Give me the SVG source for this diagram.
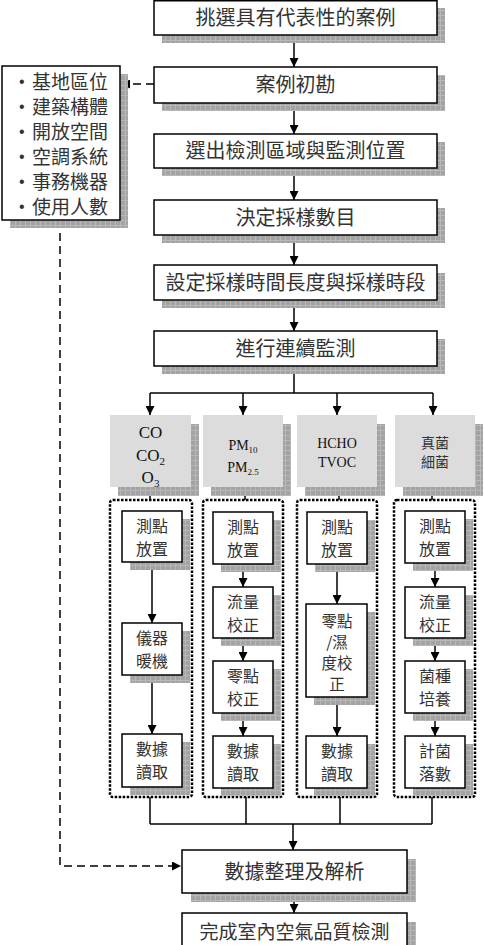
<svg xmlns="http://www.w3.org/2000/svg" width="484" height="945" viewBox="0 0 484 945">
  <defs>
    <pattern id="shade" width="5" height="5" patternUnits="userSpaceOnUse">
      <rect width="5" height="5" fill="#a3a3a3"/>
      <path d="M0 0.5H5M0.5 0V5" stroke="#b8b8b8" stroke-width="1"/>
    </pattern>
    <marker id="arr" viewBox="0 0 10 10" refX="10" refY="5" markerWidth="9" markerHeight="9" markerUnits="userSpaceOnUse" orient="auto">
      <path d="M0 0L10 5L0 10Z" fill="#000"/>
    </marker>
  </defs>
  <style>
    .box { fill: #fff; stroke: #000; stroke-width: 1.5; }
    .shadow { fill: url(#shade); }
    .gbox { fill: #dcdcdc; }
    .grp { fill: none; stroke: #000; stroke-width: 2.5; stroke-dasharray: 2.5 1.5; }
    .t { font-family: "Noto Sans CJK TC", "Noto Sans CJK SC", sans-serif; fill: #333; text-anchor: middle; }
    .big { font-size: 20px; }
    .mid { font-size: 16px; }
    .sm { font-size: 15.5px; }
    .lst { font-size: 19px; text-anchor: start; }
    .bul { font-family: "Liberation Sans", sans-serif; font-size: 16px; fill: #333; }
    .sf { font-family: "Liberation Serif", serif; fill: #111; text-anchor: middle; }
    .ln { fill: none; stroke: #000; stroke-width: 1.5; }
    .dash { fill: none; stroke: #000; stroke-width: 1.5; stroke-dasharray: 8 5; }
  </style>

  <!-- connectors -->
  <g id="connectors">
    <line class="ln" x1="294" y1="35" x2="294" y2="67" marker-end="url(#arr)"/>
    <line class="ln" x1="294" y1="103" x2="294" y2="134" marker-end="url(#arr)"/>
    <line class="ln" x1="294" y1="168" x2="294" y2="200" marker-end="url(#arr)"/>
    <line class="ln" x1="294" y1="235" x2="294" y2="265" marker-end="url(#arr)"/>
    <line class="ln" x1="294" y1="300" x2="294" y2="331" marker-end="url(#arr)"/>
    <line class="ln" x1="294" y1="366" x2="294" y2="393"/>
    <line class="ln" x1="150" y1="393" x2="433" y2="393"/>
    <line class="ln" x1="150" y1="393" x2="150" y2="415" marker-end="url(#arr)"/>
    <line class="ln" x1="243" y1="393" x2="243" y2="415" marker-end="url(#arr)"/>
    <line class="ln" x1="337" y1="393" x2="337" y2="415" marker-end="url(#arr)"/>
    <line class="ln" x1="433" y1="393" x2="433" y2="415" marker-end="url(#arr)"/>
    <!-- category boxes to groups -->
    <line class="ln" x1="150" y1="487" x2="150" y2="500"/>
    <line class="ln" x1="245" y1="487" x2="245" y2="500"/>
    <line class="ln" x1="339" y1="487" x2="339" y2="500"/>
    <line class="ln" x1="432" y1="487" x2="432" y2="500"/>
    <!-- column 1 -->
    <line class="ln" x1="152" y1="562" x2="152" y2="623" marker-end="url(#arr)"/>
    <line class="ln" x1="152" y1="675" x2="152" y2="734" marker-end="url(#arr)"/>
    <!-- column 2 -->
    <line class="ln" x1="243" y1="564" x2="243" y2="587" marker-end="url(#arr)"/>
    <line class="ln" x1="243" y1="638" x2="243" y2="661" marker-end="url(#arr)"/>
    <line class="ln" x1="243" y1="713" x2="243" y2="736" marker-end="url(#arr)"/>
    <!-- column 3 -->
    <line class="ln" x1="337" y1="564" x2="337" y2="604" marker-end="url(#arr)"/>
    <line class="ln" x1="337" y1="697" x2="337" y2="736" marker-end="url(#arr)"/>
    <!-- column 4 -->
    <line class="ln" x1="435" y1="563" x2="435" y2="587" marker-end="url(#arr)"/>
    <line class="ln" x1="435" y1="638" x2="435" y2="661" marker-end="url(#arr)"/>
    <line class="ln" x1="435" y1="713" x2="435" y2="736" marker-end="url(#arr)"/>
    <!-- groups to merge -->
    <line class="ln" x1="150" y1="797" x2="150" y2="824"/>
    <line class="ln" x1="246" y1="797" x2="246" y2="824"/>
    <line class="ln" x1="340" y1="797" x2="340" y2="824"/>
    <line class="ln" x1="432" y1="797" x2="432" y2="824"/>
    <line class="ln" x1="150" y1="824" x2="432" y2="824"/>
    <line class="ln" x1="293" y1="824" x2="293" y2="850" marker-end="url(#arr)"/>
    <line class="ln" x1="294" y1="893" x2="294" y2="913" marker-end="url(#arr)"/>
    <!-- dashed links -->
    <line class="dash" x1="154" y1="84" x2="121" y2="84" marker-end="url(#arr)"/>
    <path class="dash" d="M60 220V866H181" marker-end="url(#arr)"/>
  </g>

  <!-- main flow -->
  <g id="n1">
    <rect class="shadow" x="162" y="8" width="283" height="35"/>
    <rect class="box" x="154" y="0.75" width="283" height="34.25"/>
    <text class="t big" x="295.5" y="24.5">挑選具有代表性的案例</text>
  </g>
  <g id="n2">
    <rect class="shadow" x="162" y="75" width="283" height="36"/>
    <rect class="box" x="154" y="67" width="283" height="36"/>
    <text class="t big" x="295.5" y="92">案例初勘</text>
  </g>
  <g id="n3">
    <rect class="shadow" x="162" y="142" width="283" height="34"/>
    <rect class="box" x="154" y="134" width="283" height="34"/>
    <text class="t big" x="295.5" y="158">選出檢測區域與監測位置</text>
  </g>
  <g id="n4">
    <rect class="shadow" x="162" y="208" width="283" height="35"/>
    <rect class="box" x="154" y="200" width="283" height="35"/>
    <text class="t big" x="295.5" y="224.5">決定採樣數目</text>
  </g>
  <g id="n5">
    <rect class="shadow" x="162" y="273" width="283" height="35"/>
    <rect class="box" x="154" y="265" width="283" height="35"/>
    <text class="t big" x="295.5" y="289.5">設定採樣時間長度與採樣時段</text>
  </g>
  <g id="n6">
    <rect class="shadow" x="162" y="339" width="283" height="35"/>
    <rect class="box" x="154" y="331" width="283" height="35"/>
    <text class="t big" x="295.5" y="355.5">進行連續監測</text>
  </g>

  <!-- survey factors -->
  <g id="factors">
    <rect class="shadow" x="10" y="74" width="118" height="154"/>
    <rect class="box" x="2" y="66" width="118" height="154"/>
    <g class="bul">
      <text x="19" y="87">•</text>
      <text x="19" y="112">•</text>
      <text x="19" y="137">•</text>
      <text x="19" y="162">•</text>
      <text x="19" y="187">•</text>
      <text x="19" y="212">•</text>
    </g>
    <g class="t lst">
      <text x="32" y="89">基地區位</text>
      <text x="32" y="114">建築構體</text>
      <text x="32" y="139">開放空間</text>
      <text x="32" y="164">空調系統</text>
      <text x="32" y="189">事務機器</text>
      <text x="32" y="214">使用人數</text>
    </g>
  </g>

  <!-- pollutant categories -->
  <g id="cat-gas">
    <rect class="shadow" x="118" y="424" width="81" height="72"/>
    <rect class="gbox" x="110" y="415" width="81" height="72"/>
    <text class="sf" font-size="17" x="150.5" y="438">CO</text>
    <text class="sf" font-size="17" x="150.5" y="461">CO<tspan font-size="11" dy="4">2</tspan></text>
    <text class="sf" font-size="17" x="150.5" y="483">O<tspan font-size="11" dy="4">3</tspan></text>
  </g>
  <g id="cat-pm">
    <rect class="shadow" x="211" y="424" width="80" height="72"/>
    <rect class="gbox" x="203" y="415" width="80" height="72"/>
    <text class="sf" font-size="14" x="243" y="450">PM<tspan font-size="9" dy="3">10</tspan></text>
    <text class="sf" font-size="14" x="243" y="472">PM<tspan font-size="9" dy="3">2.5</tspan></text>
  </g>
  <g id="cat-voc">
    <rect class="shadow" x="305" y="424" width="80" height="72"/>
    <rect class="gbox" x="297" y="415" width="80" height="72"/>
    <text class="sf" font-size="14" x="337" y="448">HCHO</text>
    <text class="sf" font-size="14" x="337" y="467">TVOC</text>
  </g>
  <g id="cat-bio">
    <rect class="shadow" x="403" y="424" width="80" height="72"/>
    <rect class="gbox" x="395" y="415" width="80" height="72"/>
    <text class="t" font-size="14" x="435" y="448">真菌</text>
    <text class="t" font-size="14" x="435" y="467">細菌</text>
  </g>

  <!-- procedure groups -->
  <g id="grp1"><rect class="grp" x="110" y="500" width="82" height="297" rx="3"/></g>
  <g id="grp2"><rect class="grp" x="203" y="500" width="80" height="297" rx="3"/></g>
  <g id="grp3"><rect class="grp" x="297" y="500" width="80" height="297" rx="3"/></g>
  <g id="grp4"><rect class="grp" x="394" y="500" width="81" height="297" rx="3"/></g>

  <!-- column 1 steps -->
  <g id="c1s1">
    <rect class="shadow" x="130" y="519" width="60" height="51"/>
    <rect class="box" x="122" y="511" width="60" height="51"/>
    <text class="t mid" x="152" y="532">測點</text><text class="t mid" x="152" y="555">放置</text>
  </g>
  <g id="c1s2">
    <rect class="shadow" x="130" y="631" width="60" height="52"/>
    <rect class="box" x="122" y="623" width="60" height="52"/>
    <text class="t mid" x="152" y="644">儀器</text><text class="t mid" x="152" y="667">暖機</text>
  </g>
  <g id="c1s3">
    <rect class="shadow" x="130" y="742" width="60" height="53"/>
    <rect class="box" x="122" y="734" width="60" height="53"/>
    <text class="t mid" x="152" y="755">數據</text><text class="t mid" x="152" y="778">讀取</text>
  </g>

  <!-- column 2 steps -->
  <g id="c2s1">
    <rect class="shadow" x="221" y="520" width="60" height="52"/>
    <rect class="box" x="213" y="512" width="60" height="52"/>
    <text class="t mid" x="243" y="533">測點</text><text class="t mid" x="243" y="556">放置</text>
  </g>
  <g id="c2s2">
    <rect class="shadow" x="221" y="595" width="60" height="51"/>
    <rect class="box" x="213" y="587" width="60" height="51"/>
    <text class="t mid" x="243" y="608">流量</text><text class="t mid" x="243" y="631">校正</text>
  </g>
  <g id="c2s3">
    <rect class="shadow" x="221" y="669" width="60" height="52"/>
    <rect class="box" x="213" y="661" width="60" height="52"/>
    <text class="t mid" x="243" y="682">零點</text><text class="t mid" x="243" y="705">校正</text>
  </g>
  <g id="c2s4">
    <rect class="shadow" x="221" y="744" width="60" height="52"/>
    <rect class="box" x="213" y="736" width="60" height="52"/>
    <text class="t mid" x="243" y="757">數據</text><text class="t mid" x="243" y="780">讀取</text>
  </g>

  <!-- column 3 steps -->
  <g id="c3s1">
    <rect class="shadow" x="315" y="520" width="60" height="52"/>
    <rect class="box" x="307" y="512" width="60" height="52"/>
    <text class="t mid" x="337" y="533">測點</text><text class="t mid" x="337" y="556">放置</text>
  </g>
  <g id="c3s2">
    <rect class="shadow" x="314" y="612" width="61" height="93"/>
    <rect class="box" x="306" y="604" width="61" height="93"/>
    <text class="t sm" x="337" y="627">零點</text><text class="t sm" x="337" y="648">/濕</text>
    <text class="t sm" x="337" y="669">度校</text><text class="t sm" x="337" y="690">正</text>
  </g>
  <g id="c3s3">
    <rect class="shadow" x="314" y="744" width="61" height="52"/>
    <rect class="box" x="306" y="736" width="61" height="52"/>
    <text class="t mid" x="337" y="757">數據</text><text class="t mid" x="337" y="780">讀取</text>
  </g>

  <!-- column 4 steps -->
  <g id="c4s1">
    <rect class="shadow" x="413" y="519" width="60" height="52"/>
    <rect class="box" x="405" y="511" width="60" height="52"/>
    <text class="t mid" x="435" y="532">測點</text><text class="t mid" x="435" y="555">放置</text>
  </g>
  <g id="c4s2">
    <rect class="shadow" x="413" y="595" width="60" height="51"/>
    <rect class="box" x="405" y="587" width="60" height="51"/>
    <text class="t mid" x="435" y="608">流量</text><text class="t mid" x="435" y="631">校正</text>
  </g>
  <g id="c4s3">
    <rect class="shadow" x="413" y="669" width="60" height="52"/>
    <rect class="box" x="405" y="661" width="60" height="52"/>
    <text class="t mid" x="435" y="682">菌種</text><text class="t mid" x="435" y="705">培養</text>
  </g>
  <g id="c4s4">
    <rect class="shadow" x="413" y="744" width="60" height="52"/>
    <rect class="box" x="405" y="736" width="60" height="52"/>
    <text class="t mid" x="435" y="757">計菌</text><text class="t mid" x="435" y="780">落數</text>
  </g>

  <!-- final stages -->
  <g id="n7">
    <rect class="shadow" x="191" y="859" width="225" height="43"/>
    <rect class="box" x="182" y="850" width="225" height="43"/>
    <text class="t big" x="294.5" y="878.5">數據整理及解析</text>
  </g>
  <g id="n8">
    <rect class="shadow" x="191" y="922" width="225" height="43"/>
    <rect class="box" x="182" y="913" width="225" height="43"/>
    <text class="t" font-size="19" x="294.5" y="939">完成室內空氣品質檢測</text>
  </g>
</svg>
